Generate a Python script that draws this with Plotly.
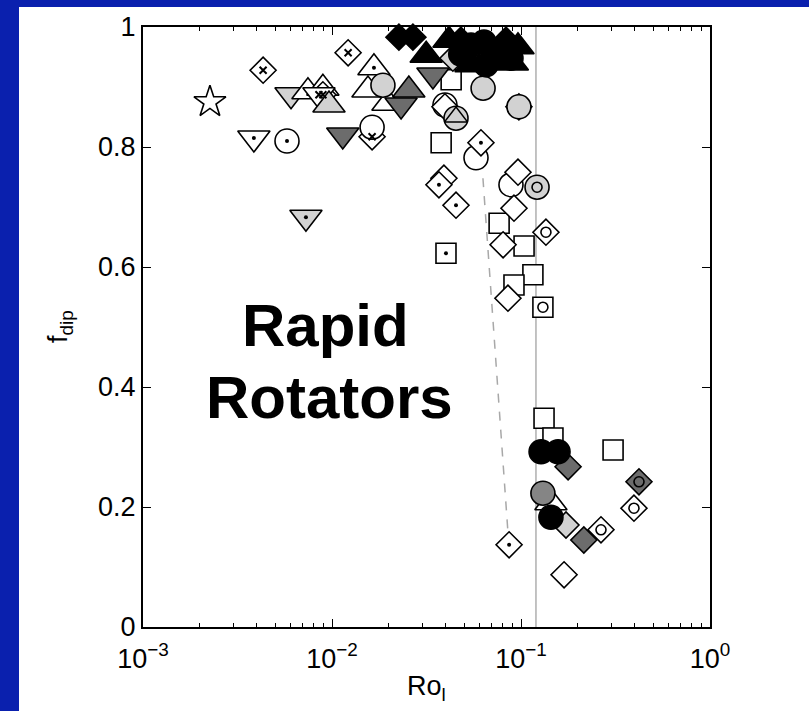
import plotly.graph_objects as go

# ---------------- data ----------------
# open (white) diamonds
dia_open_x = [0.0391, 0.0964, 0.0918, 0.0804, 0.0853, 0.169, 0.0975, 0.0396]
dia_open_y = [0.748, 0.758, 0.698, 0.637, 0.548, 0.087, 0.867, 0.867]
# diamonds with dot
dia_dot_x = [0.0368, 0.0453, 0.0614, 0.0865]
dia_dot_y = [0.737, 0.703, 0.807, 0.137]
# diamonds with cross
dia_x_x = [0.00432, 0.01217, 0.0163, 0.00895]
dia_x_y = [0.928, 0.957, 0.817, 0.887]
# diamonds with small circle
dia_o_x = [0.1355, 0.396, 0.265]
dia_o_y = [0.658, 0.198, 0.162]
# dark grey diamond with small circle
dia_dk_o_x = [0.421]
dia_dk_o_y = [0.242]
# dark grey diamonds
dia_dk_x = [0.1775, 0.215]
dia_dk_y = [0.267, 0.145]
# light grey diamonds
dia_lt_x = [0.173, 0.0436]
dia_lt_y = [0.170, 0.948]
# black diamonds
dia_bk_x = [0.0226, 0.0268, 0.0481, 0.0833]
dia_bk_y = [0.983, 0.983, 0.978, 0.978]

# open squares
sq_open_x = [0.0427, 0.0378, 0.0766, 0.1038, 0.1156, 0.0918, 0.1324, 0.1476, 0.307]
sq_open_y = [0.912, 0.807, 0.673, 0.635, 0.587, 0.570, 0.348, 0.315, 0.295]
sq_dot_x = [0.0401]
sq_dot_y = [0.623]
sq_o_x = [0.1306]
sq_o_y = [0.533]

# circles
ci_open_x = [0.0578, 0.0885, 0.0396, 0.0163]
ci_open_y = [0.782, 0.737, 0.870, 0.833]
ci_dot_x = [0.00578]
ci_dot_y = [0.810]
ci_lt_x = [0.0186, 0.063, 0.0975, 0.0453]
ci_lt_y = [0.903, 0.898, 0.867, 0.848]
ci_lt_o_x = [0.1216]
ci_lt_o_y = [0.733]
ci_md_x = [0.1306]
ci_md_y = [0.223]
ci_bk_x = [0.1277, 0.157, 0.144, 0.0544, 0.0637, 0.0738, 0.0653, 0.0885, 0.0480]
ci_bk_y = [0.292, 0.292, 0.183, 0.970, 0.975, 0.953, 0.937, 0.948, 0.955]

# triangles up
tu_open_x = [0.00746, 0.00895, 0.0155, 0.01977, 0.144]
tu_open_y = [0.892, 0.898, 0.895, 0.873, 0.207]
tu_dot_x = [0.01667]
tu_dot_y = [0.932]
tu_lt_x = [0.00964]
tu_lt_y = [0.870]
tu_dk_x = [0.0255, 0.0525]
tu_dk_y = [0.895, 0.948]
tu_bk_x = [0.0315, 0.0416, 0.0964, 0.0544, 0.0900]
tu_bk_y = [0.953, 0.978, 0.967, 0.937, 0.940]
tu_inner_x = [0.0453]
tu_inner_y = [0.850]

# triangles down
td_lt_x = [0.00607]
td_lt_y = [0.887]
td_lt_dot_x = [0.00728]
td_lt_dot_y = [0.683]
td_dot_x = [0.00386]
td_dot_y = [0.815]
td_x_x = [0.00853]
td_x_y = [0.887]
td_dk_x = [0.0114, 0.0232, 0.0342]
td_dk_y = [0.820, 0.870, 0.920]

# star
star_x = [0.00226]
star_y = [0.875]

# reference lines
ro_crit = 0.12
dash_x = [0.0629, 0.0853]
dash_y = [0.748, 0.158]

xtick_vals = [0.001, 0.01, 0.1, 1]
xtick_text = ["10<sup>−3</sup>", "10<sup>−2</sup>", "10<sup>−1</sup>", "10<sup>0</sup>"]
ytick_vals = [0, 0.2, 0.4, 0.6, 0.8, 1]
ytick_text = ["0", "0.2", "0.4", "0.6", "0.8", "1"]
minor_vals = [m * d for d in (0.001, 0.01, 0.1) for m in range(2, 10)]

# ---------------- styling ----------------
WHITE = "white"
LT = "#d2d2d2"
MD = "#858585"
DK = "#6c6c6c"
BK = "black"
LW = 1.6

fig = go.Figure()

# reference lines
fig.add_trace(go.Scatter(x=[ro_crit, ro_crit], y=[0, 1], mode="lines",
                         line=dict(color="#9a9a9a", width=1.2), hoverinfo="skip"))
fig.add_trace(go.Scatter(x=dash_x, y=dash_y, mode="lines",
                         line=dict(color="#a8a8a8", width=1.5, dash="dash"), hoverinfo="skip"))

SIZES = {"diamond": 20, "square": 20, "circle": 24, "triangle-up": 28,
         "triangle-down": 28, "star": 24}


def add(xs, ys, symbol, fill):
    fig.add_trace(go.Scatter(
        x=xs, y=ys, mode="markers", cliponaxis=False,
        marker=dict(symbol=symbol, size=SIZES[symbol], color=fill,
                    line=dict(color="black", width=LW))))


def inner(xs, ys, kind):
    if kind == "dot":
        m = dict(symbol="circle", size=4, color="black", line=dict(width=0))
    elif kind == "x":
        m = dict(symbol="x-thin-open", size=7, color="black", line=dict(color="black", width=2))
    else:
        m = dict(symbol="circle-open", size=10, color="black", line=dict(color="black", width=1.6))
    fig.add_trace(go.Scatter(x=xs, y=ys, mode="markers", cliponaxis=False, marker=m))


# open / light first, dark & black later
add(star_x, star_y, "star", WHITE)
add(td_dot_x, td_dot_y, "triangle-down", WHITE)
add(td_lt_dot_x, td_lt_dot_y, "triangle-down", LT)
add(ci_dot_x, ci_dot_y, "circle", WHITE)
add(td_lt_x, td_lt_y, "triangle-down", LT)
add(tu_open_x, tu_open_y, "triangle-up", WHITE)
add(dia_x_x, dia_x_y, "diamond", WHITE)
add(td_x_x, td_x_y, "triangle-down", WHITE)
add(tu_lt_x, tu_lt_y, "triangle-up", LT)
add(tu_dot_x, tu_dot_y, "triangle-up", WHITE)
add(ci_open_x, ci_open_y, "circle", WHITE)
add(sq_open_x, sq_open_y, "square", WHITE)
add(sq_dot_x, sq_dot_y, "square", WHITE)
add(sq_o_x, sq_o_y, "square", WHITE)
add(dia_open_x, dia_open_y, "diamond", WHITE)
add(dia_dot_x, dia_dot_y, "diamond", WHITE)
add(dia_o_x, dia_o_y, "diamond", WHITE)
add(ci_lt_x, ci_lt_y, "circle", LT)
add(ci_lt_o_x, ci_lt_o_y, "circle", LT)
add(tu_dk_x, tu_dk_y, "triangle-up", DK)
add(td_dk_x, td_dk_y, "triangle-down", DK)
add(dia_lt_x, dia_lt_y, "diamond", LT)
add(dia_dk_x, dia_dk_y, "diamond", DK)
add(dia_dk_o_x, dia_dk_o_y, "diamond", DK)
add(ci_md_x, ci_md_y, "circle", MD)
add(dia_bk_x, dia_bk_y, "diamond", BK)
add(tu_bk_x, tu_bk_y, "triangle-up", BK)
add(ci_bk_x, ci_bk_y, "circle", BK)

# inner decorations
inner(td_dot_x + td_lt_dot_x + ci_dot_x + sq_dot_x + dia_dot_x + tu_dot_x,
      td_dot_y + td_lt_dot_y + ci_dot_y + sq_dot_y + dia_dot_y + tu_dot_y, "dot")
inner(dia_x_x + td_x_x, dia_x_y + td_x_y, "x")
inner(dia_o_x + dia_dk_o_x + sq_o_x + ci_lt_o_x, dia_o_y + dia_dk_o_y + sq_o_y + ci_lt_o_y, "o")
fig.add_trace(go.Scatter(x=tu_inner_x, y=tu_inner_y, mode="markers", cliponaxis=False,
                         marker=dict(symbol="triangle-up-open", size=20, color="black",
                                     line=dict(color="black", width=1.4))))

FONT = "Arial, Liberation Sans, Helvetica, sans-serif"
W, H = 809, 711
L, R, T, B = 143, 710, 27, 627

fig.update_layout(
    width=W, height=H, showlegend=False,
    margin=dict(l=L, r=W - R, t=T, b=H - B, pad=0),
    paper_bgcolor="#0a20ae", plot_bgcolor="white",
    font=dict(family=FONT, color="black", size=27),
    xaxis=dict(type="log", range=[-3, 0], tickvals=xtick_vals, ticktext=xtick_text,
               ticks="inside", ticklen=8, tickwidth=1.2, tickcolor="black",
               minor=dict(tickvals=minor_vals, ticks="inside", ticklen=4,
                          tickwidth=1, tickcolor="black"),
               showline=True, linecolor="black", linewidth=2.2, mirror="allticks",
               showgrid=False, zeroline=False, ticklabelstandoff=6,
               tickfont=dict(size=27, family=FONT)),
    yaxis=dict(range=[0, 1], tickvals=ytick_vals, ticktext=ytick_text,
               ticks="inside", ticklen=8, tickwidth=1.2, tickcolor="black",
               showline=True, linecolor="black", linewidth=2.2, mirror="allticks",
               showgrid=False, zeroline=False, tickfont=dict(size=27, family=FONT)),
)

# white slide panel
pw, ph = R - L, B - T
fig.add_shape(type="rect", xref="paper", yref="paper", layer="below",
              x0=(19 - L) / pw, x1=(W + 5 - L) / pw,
              y0=(B - (H + 5)) / ph, y1=(B - 7) / ph,
              fillcolor="white", line=dict(width=0))

# axis titles
fig.add_annotation(xref="paper", yref="paper", x=0.5, y=(B - 688) / ph,
                   text="Ro<sub>l</sub>", showarrow=False,
                   font=dict(size=27, family=FONT), xanchor="center", yanchor="middle")
fig.add_annotation(xref="paper", yref="paper", x=(60 - L) / pw, y=(B - 327) / ph,
                   text="f<sub>dip</sub>", showarrow=False, textangle=-90,
                   font=dict(size=27, family=FONT), xanchor="center", yanchor="middle")

# big label
fig.add_annotation(xref="paper", yref="paper", x=(325 - L) / pw, y=(B - 325) / ph,
                   text="<b>Rapid</b>", showarrow=False,
                   font=dict(size=60, family=FONT, color="black"), xanchor="center", yanchor="middle")
fig.add_annotation(xref="paper", yref="paper", x=(329 - L) / pw, y=(B - 397) / ph,
                   text="<b>Rotators</b>", showarrow=False,
                   font=dict(size=60, family=FONT, color="black"), xanchor="center", yanchor="middle")

fig.write_html("out.html")
